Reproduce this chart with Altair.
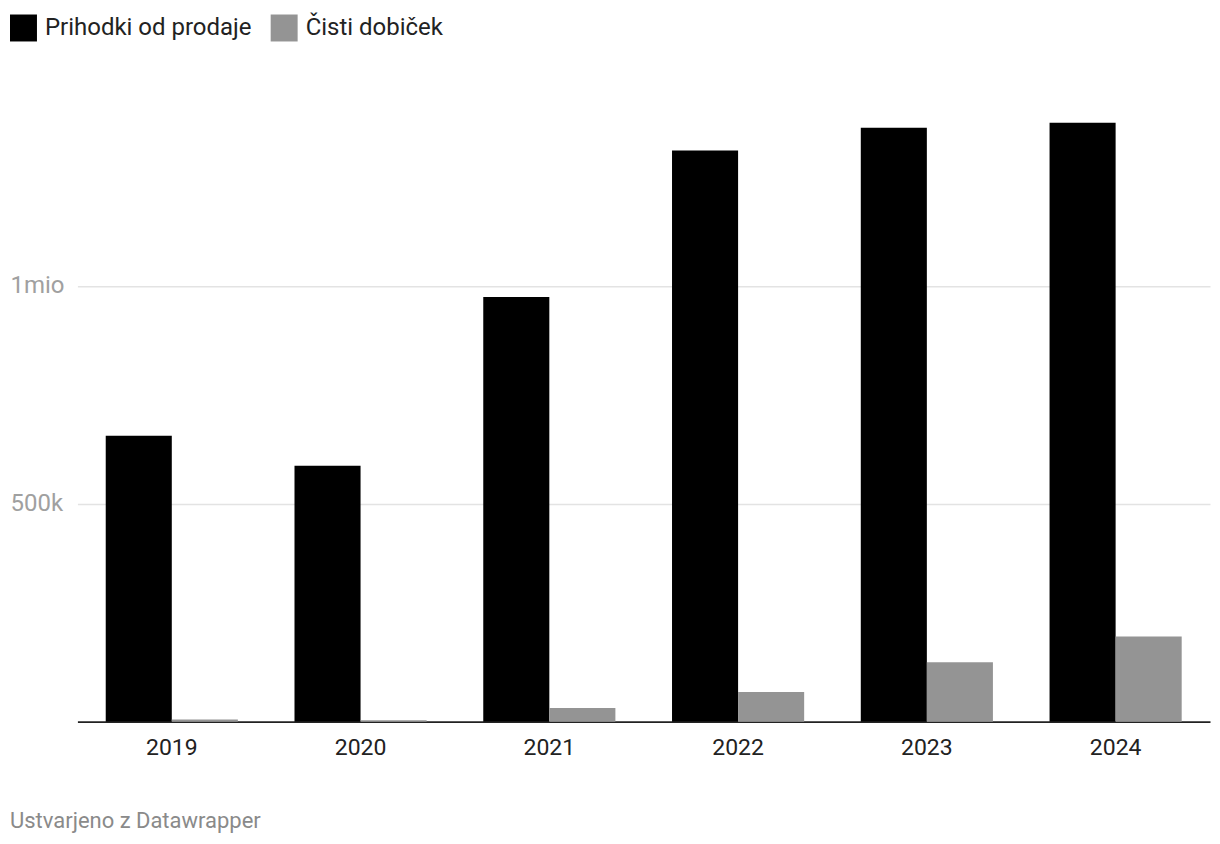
import altair as alt
import pandas as pd

years = ["2019", "2020", "2021", "2022", "2023", "2024"]
prihodki = [656000, 587000, 974000, 1310000, 1362000, 1374000]
dobicek = [5000, 3000, 31000, 68000, 136000, 195000]
series = ["Prihodki od prodaje", "Čisti dobiček"]
colors = ["#000000", "#949494"]
y_ticks = [500000, 1000000]

rows = []
for i, yr in enumerate(years):
    rows.append({"leto": yr, "serija": series[0], "vrednost": prihodki[i]})
    rows.append({"leto": yr, "serija": series[1], "vrednost": dobicek[i]})
df = pd.DataFrame(rows)

FONT = "Roboto"

chart = (
    alt.Chart(df)
    .mark_bar(strokeWidth=0)
    .encode(
        x=alt.X(
            "leto:N",
            sort=years,
            scale=alt.Scale(paddingInner=0.3, paddingOuter=0.15),
            axis=alt.Axis(
                title=None,
                labelAngle=0,
                labelFontSize=23,
                labelColor="#222222",
                labelFont=FONT,
                domainColor="#222222",
                domainWidth=2,
                ticks=False,
                labelPadding=15,
                grid=False,
            ),
        ),
        xOffset=alt.XOffset(
            "serija:N", sort=series, scale=alt.Scale(paddingInner=0, paddingOuter=0)
        ),
        y=alt.Y(
            "vrednost:Q",
            scale=alt.Scale(domain=[0, 1470800], nice=False, zero=True),
            axis=alt.Axis(
                title=None,
                values=y_ticks,
                labelExpr="datum.value >= 1000000 ? format(datum.value/1000000, 'd') + 'mio' : format(datum.value/1000, 'd') + 'k'",
                domain=False,
                ticks=False,
                grid=True,
                gridColor="#e3e3e3",
                gridWidth=1.5,
                labelAlign="left",
                labelBaseline="middle",
                labelPadding=67.5,
                labelColor="#a0a0a0",
                labelFontSize=24,
                labelFont=FONT,
            ),
        ),
        color=alt.Color(
            "serija:N",
            sort=series,
            scale=alt.Scale(domain=series, range=colors),
            legend=alt.Legend(
                title=None,
                orient="none",
                legendX=-67.5,
                legendY=-66,
                direction="horizontal",
                symbolType="square",
                symbolSize=729,
                symbolStrokeWidth=0,
                labelFontSize=24,
                labelFont=FONT,
                labelColor="#222222",
                labelOffset=8,
                columnPadding=19,
                labelLimit=0,
            ),
        ),
    )
    .properties(
        width=1134,
        height=642,
        autosize=alt.AutoSizeParams(type="none"),
        padding={"left": 69.5, "top": 72, "right": 2, "bottom": 114},
        title=alt.TitleParams(
            text="Ustvarjeno z Datawrapper",
            orient="bottom",
            anchor="start",
            frame="bounds",
            fontSize=22,
            fontWeight="normal",
            font=FONT,
            color="#8a8a8a",
            offset=52,
        ),
    )
    .configure(font=FONT, background="white")
    .configure_view(strokeWidth=0, stroke=None)
)

chart.save("out.html", embed_options={"renderer": "svg", "actions": False})
